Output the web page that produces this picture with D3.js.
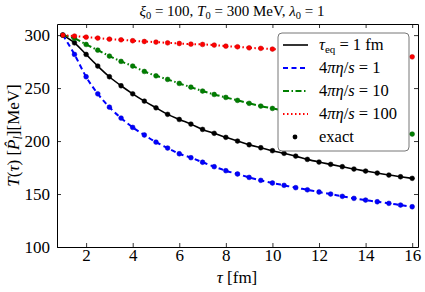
<!DOCTYPE html>
<html>
<head>
<meta charset="utf-8">
<script src="https://cdnjs.cloudflare.com/ajax/libs/d3/7.8.5/d3.min.js"></script>
<style>
body { margin: 0; background: #fff; }
svg { display: block; font-family: "Liberation Serif", "DejaVu Serif", serif; }
</style>
</head>
<body>
<svg id="chart" width="425" height="292"></svg>
<script>
// proper time values (fm) where the exact solution is sampled
var tau = [1, 1.5, 2, 2.5, 3, 3.5, 4, 4.5, 5, 5.5, 6, 6.5, 7, 7.5, 8, 8.5, 9, 9.5,
           10, 10.5, 11, 11.5, 12, 12.5, 13, 13.5, 14, 14.5, 15, 15.5, 16];

// T(tau) in MeV
var tEq1 = [300, 292.7, 281.8, 270.8, 260.7, 252.2, 244.6, 237.7, 231.4, 225.2, 220.4,
            216, 211, 207.3, 203.5, 200, 196.5, 193.7, 190.9, 188.4, 185.8,
            182.7, 180.2, 178, 175.8, 173.6, 171.7, 169.8, 167.9, 166.3, 164.8];
var eta1 = [300, 281.8, 260.7, 244.6, 232, 221.7, 212.9, 205.7, 199, 193.4, 188,
            184.3, 180, 175.8, 172, 168.9, 165.7, 162.9, 160.4, 158.2, 156,
            154, 151.9, 150, 147.8, 145.9, 144.3, 142.7, 141.2, 139.6, 138];
var eta10 = [300, 296.9, 291.2, 285.8, 280.2, 275.2, 270.8, 265.7, 261.6, 258.2, 254.4,
             250.9, 247.2, 244, 241.2, 238.4, 235.6, 233, 230.8, 228.6, 226.4,
             224.3, 222.2, 220.1, 218.1, 216.1, 214.1, 212.2, 210.3, 208.4, 206.6];
var eta100 = [300, 299.1, 298.1, 297.2, 296.2, 295.6, 294.7, 294, 293.4, 292.7, 292.1,
              291.5, 291.2, 290.6, 289.6, 289, 288, 287.5, 286.8, 286.2, 285.6,
              285, 284.4, 283.8, 283.1, 282.5, 281.9, 281.3, 280.7, 280.1, 279.5];

var xTicks = [2, 4, 6, 8, 10, 12, 14, 16];
var yTicks = [100, 150, 200, 250, 300];

var series = [
  { label: "teq", values: tEq1, color: "#000000", dash: null, width: 1.6 },
  { label: "1", values: eta1, color: "#0000ff", dash: "5,3.5", width: 2 },
  { label: "10", values: eta10, color: "#007f00", dash: "6,2.5,1.5,2.5", width: 2 },
  { label: "100", values: eta100, color: "#ff0000", dash: "1.5,2.5", width: 2 }
];

var svg = d3.select("#chart");
var mLeft = 57, mRight = 418, mTop = 24, mBottom = 247;

var x = d3.scaleLinear().domain([0.75, 16.25]).range([mLeft, mRight]);
var y = d3.scaleLinear().domain([100, 310.5]).range([mBottom, mTop]);

// lines
var line = d3.line()
  .x(function(d, i) { return x(tau[i]); })
  .y(function(d) { return y(d); })
  .curve(d3.curveMonotoneX);

var plot = svg.append("g");
series.forEach(function(s) {
  plot.append("path")
    .attr("d", line(s.values))
    .attr("fill", "none")
    .attr("stroke", s.color)
    .attr("stroke-width", s.width)
    .attr("stroke-dasharray", s.dash);
});

// exact solution dots
series.forEach(function(s) {
  plot.selectAll(null).data(s.values).enter().append("circle")
    .attr("cx", function(d, i) { return x(tau[i]); })
    .attr("cy", function(d) { return y(d); })
    .attr("r", 2.4)
    .attr("fill", s.color)
    .attr("stroke", d3.color(s.color).darker(0.8))
    .attr("stroke-width", 0.5);
});

// axes, ticks pointing inward on all sides
var fs = 17;
var gB = svg.append("g").attr("transform", "translate(0," + mBottom + ")")
  .call(d3.axisBottom(x).tickValues(xTicks).tickSizeInner(-4).tickSizeOuter(0).tickPadding(5));
var gT = svg.append("g").attr("transform", "translate(0," + mTop + ")")
  .call(d3.axisTop(x).tickValues(xTicks).tickSizeInner(-4).tickSizeOuter(0).tickFormat(""));
var gL = svg.append("g").attr("transform", "translate(" + mLeft + ",0)")
  .call(d3.axisLeft(y).tickValues(yTicks).tickSizeInner(-4).tickSizeOuter(0).tickPadding(7));
var gR = svg.append("g").attr("transform", "translate(" + mRight + ",0)")
  .call(d3.axisRight(y).tickValues(yTicks).tickSizeInner(-4).tickSizeOuter(0).tickFormat(""));
[gB, gT, gL, gR].forEach(function(g) {
  g.selectAll("path").attr("stroke", "#000").attr("stroke-width", 1);
  g.selectAll("line").attr("stroke", "#000").attr("stroke-width", 0.8);
  g.selectAll("text").attr("font-family", "Liberation Serif").attr("font-size", fs).attr("fill", "#000");
});
gB.selectAll("text").attr("dy", "0.5em");

// title
var title = svg.append("text").attr("x", 232).attr("y", 16)
  .attr("text-anchor", "middle").attr("font-size", 15);
title.append("tspan").attr("font-style", "italic").text("ξ");
title.append("tspan").attr("font-size", 10.5).attr("dy", 3).text("0");
title.append("tspan").attr("dy", -3).text(" = 100,  ");
title.append("tspan").attr("font-style", "italic").text("T");
title.append("tspan").attr("font-size", 10.5).attr("dy", 3).text("0");
title.append("tspan").attr("dy", -3).text(" = 300 MeV,  ");
title.append("tspan").attr("font-style", "italic").text("λ");
title.append("tspan").attr("font-size", 10.5).attr("dy", 3).text("0");
title.append("tspan").attr("dy", -3).text(" = 1");

// x label
var xl = svg.append("text").attr("x", 237).attr("y", 283)
  .attr("text-anchor", "middle").attr("font-size", 17);
xl.append("tspan").attr("font-style", "italic").text("τ");
xl.append("tspan").text(" [fm]");

// y label
var yl = svg.append("text")
  .attr("transform", "translate(19," + ((mTop + mBottom) / 2) + ") rotate(-90)")
  .attr("text-anchor", "middle").attr("font-size", 17);
yl.append("tspan").attr("font-style", "italic").text("T");
yl.append("tspan").text("(");
yl.append("tspan").attr("font-style", "italic").text("τ");
yl.append("tspan").text(") [");
yl.append("tspan").attr("font-style", "italic").text("P̂");
yl.append("tspan").attr("font-style", "italic").attr("font-size", 12).attr("dy", 3).text("l");
yl.append("tspan").attr("dy", -3).text("][MeV]");

// legend
var lg = svg.append("g");
lg.append("rect").attr("x", 278).attr("y", 33).attr("width", 131).attr("height", 118)
  .attr("rx", 4).attr("fill", "#fff").attr("stroke", "#777").attr("stroke-width", 1);
var rowY = [45, 68, 91, 114, 137];
series.forEach(function(s, i) {
  lg.append("line").attr("x1", 283).attr("x2", 308)
    .attr("y1", rowY[i]).attr("y2", rowY[i])
    .attr("stroke", s.color).attr("stroke-width", s.width)
    .attr("stroke-dasharray", s.dash);
  var t = lg.append("text").attr("x", 319).attr("y", rowY[i] + 5).attr("font-size", 16.5);
  if (s.label === "teq") {
    t.append("tspan").attr("font-style", "italic").text("τ");
    t.append("tspan").attr("font-size", 11).attr("dy", 3).text("eq");
    t.append("tspan").attr("dy", -3).text(" = 1 fm");
  } else {
    t.append("tspan").text("4");
    t.append("tspan").attr("font-style", "italic").text("πη");
    t.append("tspan").text("/");
    t.append("tspan").attr("font-style", "italic").text("s");
    t.append("tspan").text(" = " + s.label);
  }
});
lg.append("circle").attr("cx", 295).attr("cy", rowY[4]).attr("r", 2.4).attr("fill", "#000");
lg.append("text").attr("x", 319).attr("y", rowY[4] + 5).attr("font-size", 16.5).text("exact");
</script>
</body>
</html>
